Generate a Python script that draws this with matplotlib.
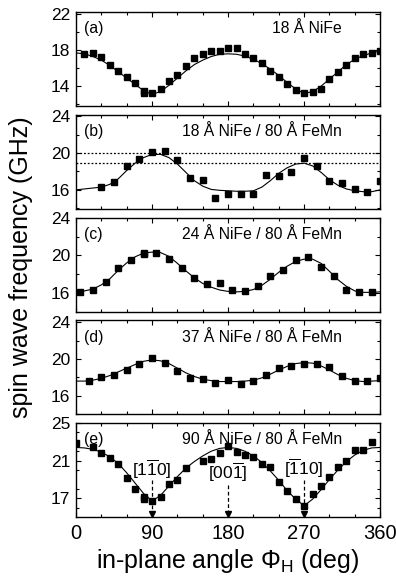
import numpy as np
import matplotlib
matplotlib.use('Agg')
import matplotlib.pyplot as plt
from matplotlib.ticker import MultipleLocator

# measured points (angle in deg, frequency in GHz)
a_ang = [10, 20, 30, 40, 50, 60, 70, 80, 80, 90, 100, 110, 120, 130, 140, 150, 160, 170, 180,
         190, 200, 210, 220, 230, 240, 250, 260, 270, 280, 290, 300, 310, 320, 330, 340, 350, 360]
a_val = [17.6, 17.7, 17.2, 16.4, 15.7, 15.0, 14.4, 13.5, 13.2, 13.3, 13.7, 14.6, 15.3, 16.3, 17.1,
         17.6, 17.9, 17.9, 18.3, 18.3, 17.6, 17.1, 16.6, 15.7, 15.0, 14.3, 13.6, 13.2, 13.4, 13.7,
         14.8, 15.6, 16.4, 17.1, 17.6, 17.7, 17.9]

b_ang = [30, 45, 60, 75, 90, 105, 120, 135, 150, 165, 180, 195, 210, 225, 240, 255, 270, 285,
         300, 315, 330, 345, 360]
b_val = [16.35, 16.9, 18.6, 19.4, 20.1, 20.25, 19.2, 17.25, 17.05, 15.15, 15.6, 15.55, 15.6,
         17.65, 17.55, 17.9, 19.45, 18.6, 17.0, 16.7, 16.1, 15.8, 16.95]
b_ref = [20.05, 18.9]  # dotted reference levels

c_ang = [5, 20, 35, 50, 65, 80, 80, 95, 110, 125, 140, 155, 170, 185, 200, 215, 230, 245, 260,
         275, 290, 305, 320, 335, 350]
c_val = [16.05, 16.35, 17.2, 18.6, 19.55, 20.3, 20.1, 20.3, 19.65, 18.6, 17.6, 16.9, 17.1, 16.25,
         16.15, 16.7, 17.8, 18.4, 19.5, 19.8, 18.75, 17.8, 16.35, 16.05, 16.05]

d_ang = [15, 30, 45, 60, 75, 90, 105, 120, 135, 150, 165, 180, 195, 210, 225, 240, 255, 270,
         285, 300, 315, 330, 345, 360]
d_val = [17.6, 18.0, 18.3, 18.75, 19.45, 20.1, 19.55, 18.65, 17.9, 17.85, 17.4, 17.7, 17.3, 17.6,
         18.3, 19.0, 19.25, 19.5, 19.45, 19.15, 18.1, 17.6, 17.6, 17.9]

e_ang = [0, 20, 30, 40, 50, 60, 70, 80, 80, 90, 100, 110, 120, 130, 150, 160, 170, 180, 190,
         200, 210, 220, 230, 240, 250, 260, 270, 280, 290, 300, 310, 320, 330, 340, 350]
e_val = [22.9, 22.45, 21.85, 21.3, 20.65, 19.15, 17.95, 17.15, 16.95, 16.7, 17.15, 18.5, 18.9,
         20.2, 21.0, 21.15, 21.85, 22.55, 21.95, 21.6, 21.35, 20.6, 20.3, 18.7, 17.8, 16.95, 16.2,
         17.5, 18.3, 19.25, 20.3, 21.0, 22.1, 22.1, 23.0]

# fitted curves, read every 10 deg
fit_ang = list(range(0, 361, 10))
a_fit = [17.7, 17.6, 17.3, 16.9, 16.3, 15.6, 14.9, 14.2, 13.5, 13.1, 13.4, 14.1, 14.9, 15.7, 16.4,
         16.9, 17.3, 17.55, 17.6, 17.55, 17.35, 17.0, 16.5, 15.9, 15.2, 14.4, 13.7, 13.2, 13.4,
         14.0, 14.8, 15.6, 16.4, 17.0, 17.4, 17.7, 17.9]
b_fit = [16.0, 16.1, 16.2, 16.3, 16.6, 17.2, 18.1, 18.9, 19.5, 19.85, 19.85, 19.5, 18.8, 17.9,
         17.0, 16.4, 16.05, 15.95, 15.9, 15.85, 15.85, 15.9, 16.3, 17.0, 17.8, 18.4, 18.8, 18.9,
         18.6, 17.9, 17.1, 16.5, 16.1, 15.9, 15.8, 15.8, 16.0]
c_fit = [16.1, 16.2, 16.4, 16.85, 17.5, 18.4, 19.2, 19.85, 20.25, 20.35, 20.3, 19.9, 19.15, 18.35,
         17.6, 17.0, 16.6, 16.3, 16.15, 16.1, 16.15, 16.35, 16.8, 17.45, 18.2, 18.85, 19.35, 19.6,
         19.6, 19.15, 18.3, 17.4, 16.7, 16.2, 16.05, 16.05, 16.1]
d_fit = [17.6, 17.6, 17.7, 17.9, 18.2, 18.6, 19.0, 19.4, 19.75, 19.9, 19.8, 19.5, 19.0, 18.5,
         18.1, 17.8, 17.65, 17.55, 17.55, 17.55, 17.6, 17.7, 17.95, 18.35, 18.8, 19.2, 19.5, 19.6,
         19.55, 19.25, 18.8, 18.3, 17.9, 17.65, 17.55, 17.6, 17.65]
e_fit = [22.4, 22.35, 22.2, 21.9, 21.4, 20.7, 19.7, 18.6, 17.5, 16.7, 17.3, 18.3, 19.3, 20.2,
         20.9, 21.5, 22.0, 22.3, 22.4, 22.3, 22.0, 21.5, 20.8, 19.9, 18.9, 17.8, 16.9, 16.2, 16.9,
         17.9, 19.0, 20.0, 20.9, 21.6, 22.1, 22.35, 22.4]

titles = ['18 Å NiFe', '18 Å NiFe / 80 Å FeMn', '24 Å NiFe / 80 Å FeMn',
          '37 Å NiFe / 80 Å FeMn', '90 Å NiFe / 80 Å FeMn']
tags = ['(a)', '(b)', '(c)', '(d)', '(e)']
ylims = [(11.8, 22.25), (13.95, 24.15), (14.0, 24.05), (14.0, 24.2), (15.0, 25.0)]
yticks = [[14, 18, 22], [16, 20, 24], [16, 20, 24], [16, 20, 24], [17, 21, 25]]

# crystal directions marked in (e)
dir_ang = [90, 180, 270]
dir_lab = [r'$\mathregular{[1\overline{1}0]}$', r'$\mathregular{[00\overline{1}]}$',
           r'$\mathregular{[\overline{1}10]}$']
dir_lab_y = [20.1, 19.7, 20.2]
dir_top = [18.9, 18.4, 18.9]

plt.rcParams['font.family'] = ['Liberation Sans', 'DejaVu Sans']
plt.rcParams['mathtext.fontset'] = 'custom'
plt.rcParams['mathtext.rm'] = 'Liberation Sans'
plt.rcParams['mathtext.it'] = 'Liberation Sans:italic'
plt.rcParams['axes.linewidth'] = 1.0

fig, axes = plt.subplots(5, 1, figsize=(3.96, 5.85), dpi=100)
plt.subplots_adjust(left=0.192, right=0.96, top=0.9795, bottom=0.1162, hspace=0.093)

pts = [(a_ang, a_val), (b_ang, b_val), (c_ang, c_val), (d_ang, d_val), (e_ang, e_val)]
fits = [a_fit, b_fit, c_fit, d_fit, e_fit]

for i, ax in enumerate(axes):
    ang, val = pts[i]
    ax.plot(fit_ang, fits[i], color='black', lw=0.8, zorder=2)
    ax.plot(ang, val, ls='none', marker='s', ms=4.8, color='black', zorder=3)
    if i == 1:
        for r in b_ref:
            ax.axhline(r, color='black', ls=(0, (1.5, 1.5)), lw=0.9)
    ax.set_xlim(0, 360)
    ax.set_ylim(*ylims[i])
    ax.set_yticks(yticks[i])
    ax.xaxis.set_major_locator(MultipleLocator(90))
    ax.xaxis.set_minor_locator(MultipleLocator(30))
    ax.yaxis.set_minor_locator(MultipleLocator(2))
    ax.tick_params(which='both', direction='in', top=True, right=True, width=0.8)
    ax.tick_params(which='major', length=3.5)
    ax.tick_params(which='minor', length=2)
    ax.tick_params(axis='y', labelsize=12.5, pad=4)
    ax.tick_params(axis='x', labelsize=14.5, pad=5)
    if i < 4:
        ax.set_xticklabels([])
    ax.text(0.025, 0.82, tags[i], transform=ax.transAxes, fontsize=11.3, va='center', ha='left')
    ax.text(0.875, 0.82, titles[i], transform=ax.transAxes, fontsize=11.3, va='center', ha='right')

ax = axes[4]
for x0, lab, ly, yt in zip(dir_ang, dir_lab, dir_lab_y, dir_top):
    ax.text(x0, ly, lab, ha='center', va='center', fontsize=12.5)
    ax.plot([x0, x0], [yt, 15.3], color='black', ls=(0, (3, 2)), lw=0.9)
    ax.plot([x0], [15.3], marker='v', ms=4.5, color='black', ls='none', clip_on=False)

axes[4].set_xlabel(r'in-plane angle $\Phi_\mathregular{H}$ (deg)', fontsize=18, labelpad=3)
fig.text(0.052, 0.543, 'spin wave frequency (GHz)', rotation=90, fontsize=18,
         ha='center', va='center')

plt.savefig('out.png', dpi=100)
